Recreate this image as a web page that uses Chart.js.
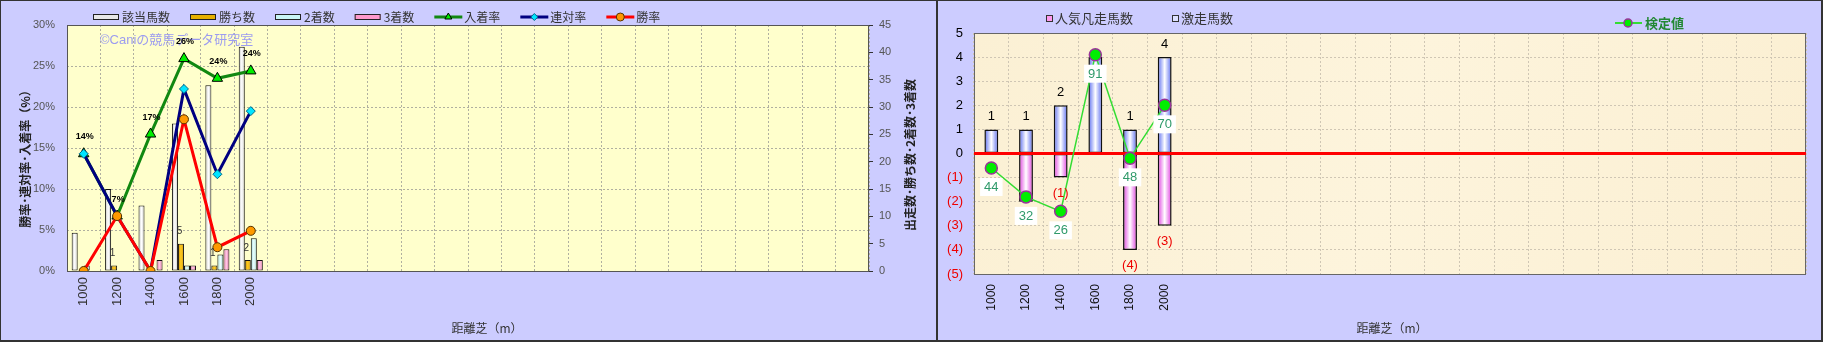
<!DOCTYPE html>
<html>
<head>
<meta charset="utf-8">
<script src="https://cdn.jsdelivr.net/npm/chart.js@4.4.0/dist/chart.umd.min.js"></script>
<style>
    html, body { margin: 0; padding: 0; background: #333; }
    #wrap { position: relative; width: 1823px; height: 342px; background: #333; }
    .panel { position: absolute; top: 1px; height: 339px; background: #ccccff; }
    #p1 { left: 1px; width: 935px; }
    #p2 { left: 938px; width: 883px; }
    canvas { display: block; }
</style>
</head>
<body>
<div id="wrap">
    <div class="panel" id="p1"><canvas id="c1" width="935" height="339"></canvas></div>
    <div class="panel" id="p2"><canvas id="c2" width="883" height="339"></canvas></div>
</div>
<script>
/* ---------- data ---------- */
const distances = ['1000', '1200', '1400', '1600', '1800', '2000'];
const SLOTS = 24;   // the distance axis has 24 slots, only the first six are used

// left chart: counts (right axis)
const runners = [7, 15, 12, 27, 34, 41];    // 該当馬数
const wins    = [0, 1, 0, 5, 1, 2];         // 勝ち数
const seconds = [1, 0, 0, 1, 3, 6];         // 2着数
const thirds  = [0, 0, 2, 1, 4, 2];         // 3着数
// left chart: rates in % (left axis)
const placeRate    = [14.3, 6.7, 16.7, 25.9, 23.5, 24.4];   // 入着率
const quinellaRate = [14.3, 6.7, 0, 22.2, 11.8, 19.5];      // 連対率
const winRate      = [0, 6.7, 0, 18.5, 2.9, 4.9];           // 勝率
const rateTicks  = { min: 0, max: 30, step: 5 };
const countTicks = { min: 0, max: 45, step: 5 };

// right chart
const upsetRunners = [1, 1, 2, 4, 1, 4];       // 激走馬数
const flopRunners  = [0, -2, -1, 0, -4, -3];   // 人気凡走馬数
const testValue    = [44, 32, 26, 91, 48, 70]; // 検定値
const upsetLabels  = ['1', '1', '2', '', '1', '4'];
const flopLabels   = ['', '', '(1)', '', '(4)', '(3)'];
const diffTicks = { min: -5, max: 5, step: 1 };
const testRange = { min: 0, max: 100 };

const xLabels = distances.concat(Array(SLOTS - distances.length).fill(''));

const FONT = "'Liberation Sans', 'Noto Sans CJK JP', sans-serif";
const JP = "'Noto Sans CJK JP', 'Liberation Sans', sans-serif";
Chart.defaults.font.family = FONT;
Chart.defaults.animation = false;

// horizontal gradient across a bar, once the element knows its x/width
function barFill(edge, mid) {
    return c => {
        const el = c.chart.getDatasetMeta(c.datasetIndex).data[c.dataIndex];
        if (!el || !el.width) return mid;
        const g = c.chart.ctx.createLinearGradient(el.x - el.width / 2, 0, el.x + el.width / 2, 0);
        g.addColorStop(0, edge); g.addColorStop(0.5, mid); g.addColorStop(1, edge);
        return g;
    };
}

function vText(ctx, text, x, y, font, color) {
    ctx.save();
    ctx.translate(x, y); ctx.rotate(-Math.PI / 2);
    ctx.font = font; ctx.fillStyle = color; ctx.textAlign = 'center'; ctx.textBaseline = 'middle';
    ctx.fillText(text, 0, 0);
    ctx.restore();
}

function lineSymbol(ctx, x, y, color, style, radius, fill, stroke) {
    ctx.save();
    ctx.strokeStyle = color; ctx.lineWidth = 3;
    ctx.beginPath(); ctx.moveTo(x, y); ctx.lineTo(x + 28, y); ctx.stroke();
    ctx.fillStyle = fill; ctx.strokeStyle = stroke; ctx.lineWidth = 1;
    Chart.helpers.drawPoint(ctx, { pointStyle: style, radius: radius, borderWidth: 1, rotation: 0 }, x + 14, y);
    ctx.restore();
}

/* ---------- left chart ---------- */
const leftDeco = {
    id: 'leftDeco',
    beforeDraw(chart) {
        const { ctx, chartArea: a } = chart;
        ctx.save(); ctx.fillStyle = '#ffffcc'; ctx.fillRect(a.left, a.top, a.width, a.height); ctx.restore();
    },
    beforeDatasetsDraw(chart) {
        const { ctx, chartArea: a } = chart;
        ctx.save();
        ctx.strokeStyle = '#555'; ctx.lineWidth = 1;
        ctx.strokeRect(a.left + 0.5, a.top + 0.5, a.width - 1, a.height);
        ctx.font = '13px ' + FONT; ctx.fillStyle = '#9c9cf0'; ctx.textBaseline = 'middle';
        ctx.fillText('©Caniの競馬データ研究室', 99, 39);
        ctx.restore();
    },
    afterDatasetsDraw(chart) {
        const ctx = chart.ctx;
        ctx.save();
        ctx.textAlign = 'center'; ctx.textBaseline = 'middle';
        ctx.font = 'bold 9px ' + FONT; ctx.fillStyle = '#000';
        chart.getDatasetMeta(0).data.forEach((p, i) => ctx.fillText(Math.round(placeRate[i]) + '%', p.x + 1, p.y - 17));
        ctx.font = '10px ' + FONT; ctx.fillStyle = '#333';
        chart.getDatasetMeta(4).data.forEach((b, i) => { if (wins[i] > 0) ctx.fillText(String(wins[i]), b.x - 1.5, b.y - 12); });
        ctx.restore();
    },
    afterDraw(chart) {
        const ctx = chart.ctx;
        // legend
        const bars = [
            ['該当馬数', '#e8e8e8'], ['勝ち数', '#e6b000'], ['2着数', '#c8f4f4'], ['3着数', '#ff99cc']
        ];
        const lines = [
            ['入着率', '#118811', 'triangle', 4, '#00ee00', '#000'],
            ['連対率', '#000080', 'rectRot', 3.5, '#00e5ff', '#006688'],
            ['勝率', '#ff0000', 'circle', 4, '#ff9900', '#553300']
        ];
        let x = 92; const y = 16;
        ctx.save();
        ctx.font = '12px ' + JP; ctx.textBaseline = 'middle';
        bars.forEach(([t, c]) => {
            ctx.fillStyle = c; ctx.fillRect(x, y - 3, 26, 6);
            ctx.strokeStyle = '#222'; ctx.lineWidth = 1; ctx.strokeRect(x + 0.5, y - 2.5, 25, 5);
            x += 29;
            ctx.fillStyle = '#333'; ctx.fillText(t, x, y);
            x += ctx.measureText(t).width + 20;
        });
        lines.forEach(([t, c, s, r, f, b]) => {
            lineSymbol(ctx, x, y, c, s, r, f, b);
            x += 30;
            ctx.fillStyle = '#333'; ctx.fillText(t, x, y);
            x += ctx.measureText(t).width + 20;
        });
        ctx.restore();
        // axis titles
        vText(ctx, '勝率･連対率･入着率（%）', 24, 155, 'bold 12px ' + JP, '#222');
        vText(ctx, '出走数･勝ち数･2着数･3着数', 909, 154, 'bold 12px ' + JP, '#222');
        ctx.save();
        ctx.font = '12px ' + JP; ctx.fillStyle = '#333'; ctx.textAlign = 'center'; ctx.textBaseline = 'middle';
        ctx.fillText('距離芝（m）', 486, 327);
        ctx.restore();
    }
};

const barCommon = { yAxisID: 'y2', order: 10, borderColor: '#111', borderWidth: 1, borderSkipped: false,
    barPercentage: 1, categoryPercentage: 0.72 };
const lineCommon = { type: 'line', yAxisID: 'y', borderWidth: 3, tension: 0, fill: false, pointBorderWidth: 1 };

const left = new Chart(document.getElementById('c1'), {
    type: 'bar',
    data: {
        labels: xLabels,
        datasets: [
            { ...lineCommon, label: '入着率', data: placeRate, order: 3, borderColor: '#118811',
              pointStyle: 'triangle', pointRadius: 6, pointBackgroundColor: '#00ee00', pointBorderColor: '#000' },
            { ...lineCommon, label: '連対率', data: quinellaRate, order: 2, borderColor: '#000080',
              pointStyle: 'rectRot', pointRadius: 4.5, pointBackgroundColor: '#00e5ff', pointBorderColor: '#006688' },
            { ...lineCommon, label: '勝率', data: winRate, order: 1, borderColor: '#ff0000',
              pointStyle: 'circle', pointRadius: 4.5, pointBackgroundColor: '#ff9900', pointBorderColor: '#553300' },
            { ...barCommon, label: '該当馬数', data: runners, backgroundColor: barFill('#c4c4c4', '#ffffff') },
            { ...barCommon, label: '勝ち数', data: wins, backgroundColor: barFill('#cc9000', '#ffcc22') },
            { ...barCommon, label: '2着数', data: seconds, backgroundColor: barFill('#9ad8d8', '#eeffff') },
            { ...barCommon, label: '3着数', data: thirds, backgroundColor: barFill('#e070a8', '#ffc8e4') }
        ]
    },
    options: {
        responsive: false,
        layout: { padding: { top: 24, left: 0, right: 0, bottom: 0 } },
        plugins: { legend: { display: false }, tooltip: { enabled: false } },
        scales: {
            x: {
                offset: true,
                grid: { offset: true, color: '#b0b0a0', drawTicks: false },
                border: { display: false, dash: [2, 2] },
                ticks: { autoSkip: false, minRotation: 90, maxRotation: 90, padding: 6, color: '#333', font: { size: 13 } },
                afterFit: s => { s.height = 69; }
            },
            y: {
                position: 'left', min: rateTicks.min, max: rateTicks.max,
                grid: { color: '#b0b0a0', drawTicks: false },
                border: { display: false, dash: [2, 2] },
                ticks: { stepSize: rateTicks.step, padding: 12, color: '#555', font: { size: 11 }, callback: v => v + '%' },
                afterFit: s => { s.width = 66; }
            },
            y2: {
                position: 'right', min: countTicks.min, max: countTicks.max,
                grid: { drawOnChartArea: false, tickLength: 4, color: '#333' },
                border: { display: false },
                ticks: { stepSize: countTicks.step, padding: 6, color: '#555', font: { size: 11 } },
                afterFit: s => { s.width = 67; }
            }
        }
    },
    plugins: [leftDeco]
});
left.update('none');   // second pass so bar gradients know their positions

/* ---------- right chart ---------- */
const rightDeco = {
    id: 'rightDeco',
    beforeDraw(chart) {
        const { ctx, chartArea: a } = chart;
        ctx.save();
        const g = ctx.createLinearGradient(a.left, a.top, a.right, a.bottom);
        g.addColorStop(0, '#fbf0d4'); g.addColorStop(0.5, '#fdf4dc'); g.addColorStop(1, '#fbefd2');
        ctx.fillStyle = g; ctx.fillRect(a.left, a.top, a.width, a.height);
        ctx.restore();
    },
    beforeDatasetsDraw(chart) {
        const { ctx, chartArea: a } = chart;
        ctx.save();
        ctx.strokeStyle = '#666'; ctx.lineWidth = 1;
        ctx.strokeRect(a.left + 0.5, a.top + 0.5, a.width - 1, a.height);
        ctx.restore();
    },
    beforeDatasetDraw(chart, args) {
        if (args.index !== 2) return;
        const { ctx, chartArea: a } = chart;
        const y0 = chart.scales.y.getPixelForValue(0);
        ctx.save();
        ctx.strokeStyle = '#ff0000'; ctx.lineWidth = 3;
        ctx.beginPath(); ctx.moveTo(a.left, y0); ctx.lineTo(a.right, y0); ctx.stroke();
        ctx.restore();
    },
    afterDatasetsDraw(chart) {
        const ctx = chart.ctx;
        ctx.save();
        ctx.textAlign = 'center'; ctx.textBaseline = 'middle';
        ctx.font = '13px ' + FONT;
        ctx.fillStyle = '#000';
        chart.getDatasetMeta(1).data.forEach((b, i) => ctx.fillText(upsetLabels[i], b.x, b.y - 13));
        ctx.fillStyle = '#ee0000';
        chart.getDatasetMeta(0).data.forEach((b, i) => ctx.fillText(flopLabels[i], b.x, b.y + 16));
        chart.getDatasetMeta(2).data.forEach((p, i) => {
            const t = String(testValue[i]);
            const w = ctx.measureText(t).width + 8;
            ctx.fillStyle = '#ffffff'; ctx.fillRect(p.x - w / 2, p.y + 10, w, 18);
            ctx.fillStyle = '#2f9a6a'; ctx.fillText(t, p.x, p.y + 19.5);
        });
        ctx.restore();
    },
    afterDraw(chart) {
        const ctx = chart.ctx;
        ctx.save();
        ctx.font = '13px ' + JP; ctx.textBaseline = 'middle';
        [[108, '人気凡走馬数', '#ff99ee'], [234, '激走馬数', '#dde0ff']].forEach(([x, t, c]) => {
            ctx.fillStyle = c; ctx.fillRect(x, 14, 7, 7);
            ctx.strokeStyle = '#333'; ctx.lineWidth = 1; ctx.strokeRect(x + 0.5, 14.5, 6, 6);
            ctx.fillStyle = '#333'; ctx.fillText(t, x + 9, 17);
        });
        ctx.strokeStyle = '#33dd33'; ctx.lineWidth = 2;
        ctx.beginPath(); ctx.moveTo(677, 22); ctx.lineTo(704, 22); ctx.stroke();
        ctx.fillStyle = '#00ee00'; ctx.strokeStyle = '#993399'; ctx.lineWidth = 1.5;
        Chart.helpers.drawPoint(ctx, { pointStyle: 'circle', radius: 4, borderWidth: 1.5, rotation: 0 }, 690, 22);
        ctx.font = 'bold 13px ' + JP; ctx.fillStyle = '#228833';
        ctx.fillText('検定値', 707, 22);
        ctx.font = '12px ' + JP; ctx.fillStyle = '#333'; ctx.textAlign = 'center';
        ctx.fillText('距離芝（m）', 454, 327);
        ctx.restore();
    }
};

const right = new Chart(document.getElementById('c2'), {
    type: 'bar',
    data: {
        labels: xLabels,
        datasets: [
            { label: '人気凡走馬数', data: flopRunners, order: 2, grouped: false, barPercentage: 0.4, categoryPercentage: 1,
              borderColor: '#111', borderWidth: 1.5, borderSkipped: false, backgroundColor: barFill('#e040e0', '#ffffff') },
            { label: '激走馬数', data: upsetRunners, order: 2, grouped: false, barPercentage: 0.4, categoryPercentage: 1,
              borderColor: '#111', borderWidth: 1.5, borderSkipped: false, backgroundColor: barFill('#5a6cf0', '#ffffff') },
            { type: 'line', label: '検定値', data: testValue, yAxisID: 'y2', order: 1, borderColor: '#33dd33', borderWidth: 1.5,
              tension: 0, fill: false, pointRadius: 6, pointBackgroundColor: '#00ee00', pointBorderColor: '#993399', pointBorderWidth: 1.5 }
        ]
    },
    options: {
        responsive: false,
        layout: { padding: { top: 32, left: 0, right: 15, bottom: 0 } },
        plugins: { legend: { display: false }, tooltip: { enabled: false } },
        scales: {
            x: {
                offset: true,
                grid: { offset: true, color: '#cfc6b4', drawTicks: false },
                border: { display: false, dash: [2, 2] },
                ticks: { autoSkip: false, minRotation: 90, maxRotation: 90, padding: 10, color: '#111', font: { size: 12 } },
                afterFit: s => { s.height = 66; }
            },
            y: {
                min: diffTicks.min, max: diffTicks.max,
                grid: { color: '#cfc6b4', drawTicks: false },
                border: { display: false, dash: [2, 2] },
                ticks: { stepSize: diffTicks.step, padding: 11, font: { size: 13 },
                         color: c => c.tick.value < 0 ? '#ee0000' : '#000',
                         callback: v => v < 0 ? '(' + (-v) + ')' : String(v) },
                afterFit: s => { s.width = 36; }
            },
            y2: { display: false, min: testRange.min, max: testRange.max }
        }
    },
    plugins: [rightDeco]
});
right.update('none');
</script>
</body>
</html>
